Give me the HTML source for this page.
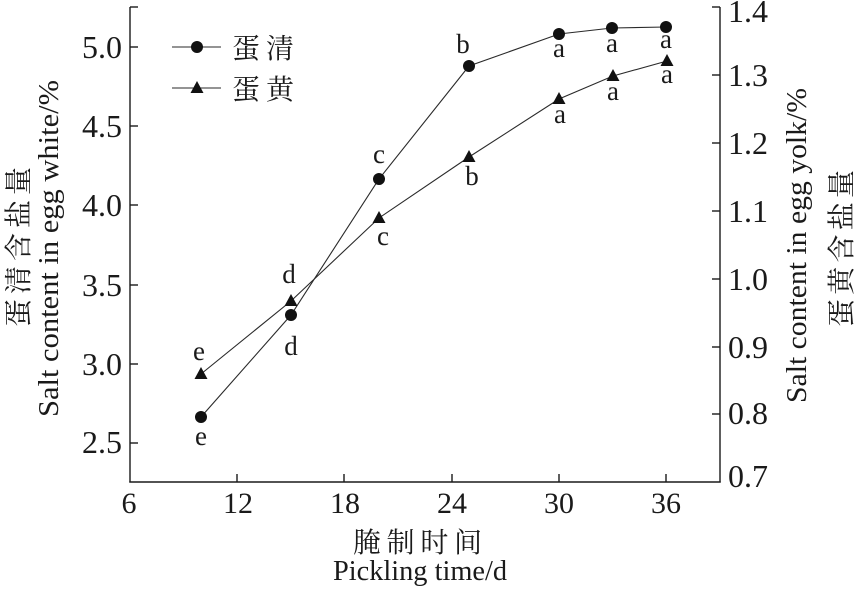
<!DOCTYPE html>
<html><head><meta charset="utf-8"><style>
html,body{margin:0;padding:0;background:#fff;}
svg{display:block;}
text{font-family:"Liberation Serif","Noto Serif CJK SC",serif;fill:#1a1a1a;}
.cjk{font-family:"Liberation Serif","Noto Serif CJK SC","Noto Sans CJK SC",serif;}
</style></head><body>
<svg width="854" height="593" viewBox="0 0 854 593" xmlns="http://www.w3.org/2000/svg">
<g stroke="#1a1a1a" stroke-width="1.4" fill="none">
  <!-- axes -->
  <line x1="130" y1="7" x2="130" y2="482.5"/>
  <line x1="720" y1="7" x2="720" y2="482.5"/>
  <line x1="129.3" y1="482" x2="720.7" y2="482"/>
  <!-- left ticks -->
  <line x1="130" y1="7" x2="138" y2="7"/>
  <line x1="130" y1="47" x2="138" y2="47"/>
  <line x1="130" y1="126" x2="138" y2="126"/>
  <line x1="130" y1="205" x2="138" y2="205"/>
  <line x1="130" y1="285" x2="138" y2="285"/>
  <line x1="130" y1="364" x2="138" y2="364"/>
  <line x1="130" y1="443" x2="138" y2="443"/>
  <!-- right ticks -->
  <line x1="720" y1="7" x2="712" y2="7"/>
  <line x1="720" y1="75" x2="712" y2="75"/>
  <line x1="720" y1="143" x2="712" y2="143"/>
  <line x1="720" y1="211" x2="712" y2="211"/>
  <line x1="720" y1="279" x2="712" y2="279"/>
  <line x1="720" y1="347" x2="712" y2="347"/>
  <line x1="720" y1="414" x2="712" y2="414"/>
  <!-- bottom ticks -->
  <line x1="237" y1="482" x2="237" y2="474"/>
  <line x1="344" y1="482" x2="344" y2="474"/>
  <line x1="452" y1="482" x2="452" y2="474"/>
  <line x1="559" y1="482" x2="559" y2="474"/>
  <line x1="666" y1="482" x2="666" y2="474"/>
</g>
<!-- series lines -->
<g stroke="#2a2a2a" stroke-width="1.1" fill="none">
  <polyline points="201,417 291,315 379,179 469,66 559,34 612,28 666,27"/>
  <polyline points="201,374 291,301 379,218 469,157 559,99 613,76 667,61"/>
  <line x1="172" y1="47" x2="221" y2="47"/>
  <line x1="172" y1="88" x2="221" y2="88"/>
</g>
<!-- markers -->
<g fill="#111">
  <circle cx="201" cy="417" r="6"/>
  <circle cx="291" cy="315" r="6"/>
  <circle cx="379" cy="179" r="6"/>
  <circle cx="469" cy="66" r="6"/>
  <circle cx="559" cy="34" r="6"/>
  <circle cx="612" cy="28" r="6"/>
  <circle cx="666" cy="27" r="6"/>
  <circle cx="197" cy="47" r="6"/>
  <polygon points="201,367 194.5,379 207.5,379"/>
  <polygon points="291,294 284.5,306 297.5,306"/>
  <polygon points="379,211 372.5,223 385.5,223"/>
  <polygon points="469,150 462.5,162 475.5,162"/>
  <polygon points="559,92 552.5,104 565.5,104"/>
  <polygon points="613,69 606.5,81 619.5,81"/>
  <polygon points="667,54 660.5,66 673.5,66"/>
  <polygon points="197,81 190.5,93 203.5,93"/>
</g>
<!-- legend text -->
<text class="cjk" x="232" y="58" font-size="28" letter-spacing="6">蛋清</text>
<text class="cjk" x="232" y="99" font-size="28" letter-spacing="6">蛋黄</text>
<!-- left tick labels -->
<g font-size="32" text-anchor="end">
  <text x="122" y="58">5.0</text>
  <text x="122" y="137">4.5</text>
  <text x="122" y="216">4.0</text>
  <text x="122" y="296">3.5</text>
  <text x="122" y="375">3.0</text>
  <text x="122" y="453">2.5</text>
</g>
<!-- right tick labels -->
<g font-size="32">
  <text x="728" y="22">1.4</text>
  <text x="728" y="86">1.3</text>
  <text x="728" y="154">1.2</text>
  <text x="728" y="222">1.1</text>
  <text x="728" y="290">1.0</text>
  <text x="728" y="358">0.9</text>
  <text x="728" y="424">0.8</text>
  <text x="728" y="487">0.7</text>
</g>
<!-- x tick labels -->
<g font-size="30" text-anchor="middle">
  <text x="129" y="513">6</text>
  <text x="238" y="513">12</text>
  <text x="345" y="513">18</text>
  <text x="452" y="513">24</text>
  <text x="559" y="513">30</text>
  <text x="666" y="513">36</text>
</g>
<!-- data labels -->
<g font-size="27" text-anchor="middle">
  <text x="201" y="445">e</text>
  <text x="291" y="355">d</text>
  <text x="379" y="163">c</text>
  <text x="463" y="53">b</text>
  <text x="559" y="57">a</text>
  <text x="612" y="52">a</text>
  <text x="666" y="48">a</text>
  <text x="199" y="360">e</text>
  <text x="289" y="283">d</text>
  <text x="383" y="245">c</text>
  <text x="472" y="185">b</text>
  <text x="560" y="123">a</text>
  <text x="613" y="100">a</text>
  <text x="667" y="83">a</text>
</g>
<!-- axis titles -->
<text class="cjk" x="417.5" y="552" font-size="28" text-anchor="middle" textLength="129" lengthAdjust="spacing">腌制时间</text>
<text x="333" y="580" font-size="28" textLength="174" lengthAdjust="spacingAndGlyphs">Pickling time/d</text>
<text transform="translate(58,248.5) rotate(-90)" font-size="29" text-anchor="middle" textLength="337" lengthAdjust="spacingAndGlyphs">Salt content in egg white/%</text>
<text class="cjk" transform="translate(28,247) rotate(-90)" font-size="28" text-anchor="middle" textLength="160" lengthAdjust="spacing">蛋清含盐量</text>
<text transform="translate(806,245.5) rotate(-90)" font-size="29" text-anchor="middle" textLength="315" lengthAdjust="spacingAndGlyphs">Salt content in egg yolk/%</text>
<text class="cjk" transform="translate(851,248.5) rotate(-90)" font-size="28" text-anchor="middle" textLength="157" lengthAdjust="spacing">蛋黄含盐量</text>
</svg>
</body></html>
